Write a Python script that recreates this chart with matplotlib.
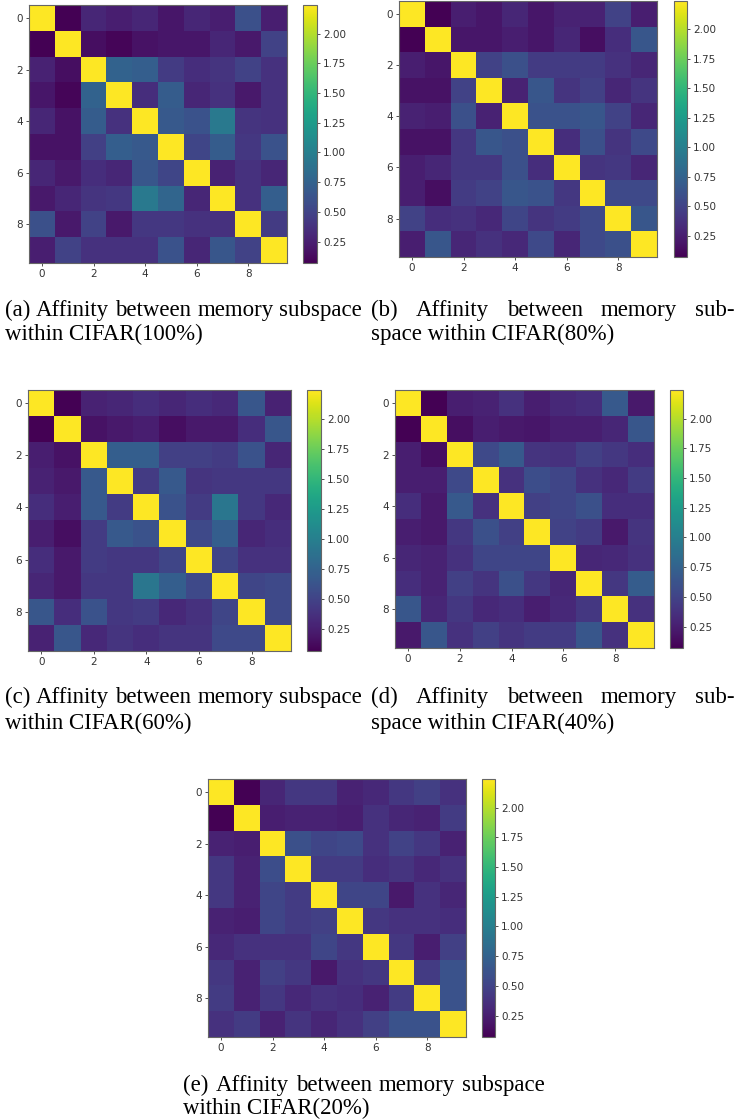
import matplotlib
matplotlib.use("Agg")
from matplotlib import pyplot as plt

W, H = 738, 1120

# Affinity matrices (rows/cols = memory subspace 0..9)
aff_100 = [
    [2.24, 0.07, 0.30, 0.25, 0.30, 0.20, 0.30, 0.25, 0.60, 0.25],
    [0.07, 2.24, 0.15, 0.10, 0.18, 0.20, 0.20, 0.30, 0.22, 0.50],
    [0.28, 0.15, 2.24, 0.75, 0.72, 0.45, 0.35, 0.40, 0.50, 0.38],
    [0.20, 0.10, 0.75, 2.24, 0.35, 0.70, 0.30, 0.38, 0.22, 0.38],
    [0.30, 0.18, 0.70, 0.38, 2.24, 0.68, 0.62, 0.95, 0.40, 0.38],
    [0.18, 0.18, 0.48, 0.72, 0.68, 2.24, 0.52, 0.70, 0.42, 0.62],
    [0.30, 0.22, 0.35, 0.30, 0.65, 0.52, 2.24, 0.28, 0.38, 0.30],
    [0.22, 0.30, 0.40, 0.42, 0.95, 0.78, 0.30, 2.24, 0.38, 0.72],
    [0.60, 0.22, 0.50, 0.22, 0.42, 0.42, 0.38, 0.38, 2.24, 0.45],
    [0.25, 0.50, 0.38, 0.38, 0.38, 0.62, 0.30, 0.65, 0.50, 2.24],
]
aff_80 = [
    [2.24, 0.07, 0.25, 0.20, 0.30, 0.20, 0.28, 0.28, 0.50, 0.25],
    [0.07, 2.24, 0.20, 0.20, 0.25, 0.20, 0.30, 0.15, 0.35, 0.65],
    [0.25, 0.20, 2.24, 0.50, 0.60, 0.45, 0.45, 0.45, 0.38, 0.30],
    [0.18, 0.18, 0.50, 2.24, 0.28, 0.65, 0.40, 0.48, 0.30, 0.40],
    [0.28, 0.25, 0.60, 0.28, 2.24, 0.62, 0.62, 0.65, 0.50, 0.30],
    [0.18, 0.18, 0.42, 0.65, 0.60, 2.24, 0.35, 0.60, 0.40, 0.55],
    [0.25, 0.30, 0.42, 0.42, 0.60, 0.35, 2.24, 0.40, 0.42, 0.30],
    [0.25, 0.15, 0.45, 0.50, 0.65, 0.62, 0.42, 2.24, 0.55, 0.55],
    [0.50, 0.35, 0.38, 0.32, 0.52, 0.40, 0.45, 0.55, 2.24, 0.65],
    [0.25, 0.65, 0.30, 0.38, 0.32, 0.55, 0.30, 0.55, 0.60, 2.24],
]
aff_60 = [
    [2.24, 0.07, 0.28, 0.30, 0.35, 0.30, 0.35, 0.32, 0.65, 0.28],
    [0.07, 2.24, 0.18, 0.22, 0.25, 0.15, 0.22, 0.22, 0.35, 0.65],
    [0.25, 0.18, 2.24, 0.72, 0.72, 0.48, 0.48, 0.45, 0.62, 0.30],
    [0.28, 0.22, 0.68, 2.24, 0.45, 0.68, 0.40, 0.42, 0.42, 0.42],
    [0.35, 0.25, 0.68, 0.45, 2.24, 0.62, 0.45, 0.92, 0.42, 0.32],
    [0.25, 0.15, 0.45, 0.68, 0.62, 2.24, 0.55, 0.72, 0.30, 0.35],
    [0.35, 0.22, 0.45, 0.42, 0.42, 0.52, 2.24, 0.52, 0.38, 0.38],
    [0.30, 0.22, 0.42, 0.42, 0.92, 0.72, 0.55, 2.24, 0.52, 0.55],
    [0.65, 0.35, 0.62, 0.42, 0.45, 0.32, 0.38, 0.52, 2.24, 0.55],
    [0.28, 0.65, 0.32, 0.40, 0.35, 0.40, 0.40, 0.55, 0.55, 2.24],
]
aff_40 = [
    [2.24, 0.07, 0.25, 0.28, 0.38, 0.25, 0.32, 0.35, 0.68, 0.22],
    [0.07, 2.24, 0.15, 0.25, 0.22, 0.20, 0.25, 0.25, 0.30, 0.65],
    [0.25, 0.15, 2.24, 0.55, 0.68, 0.40, 0.38, 0.48, 0.42, 0.35],
    [0.25, 0.25, 0.55, 2.24, 0.38, 0.58, 0.52, 0.38, 0.32, 0.45],
    [0.35, 0.22, 0.68, 0.38, 2.24, 0.48, 0.52, 0.60, 0.35, 0.35],
    [0.25, 0.22, 0.42, 0.60, 0.48, 2.24, 0.50, 0.45, 0.22, 0.40],
    [0.30, 0.28, 0.38, 0.52, 0.52, 0.52, 2.24, 0.30, 0.32, 0.38],
    [0.35, 0.28, 0.48, 0.40, 0.60, 0.42, 0.30, 2.24, 0.42, 0.70],
    [0.65, 0.30, 0.42, 0.32, 0.35, 0.25, 0.32, 0.42, 2.24, 0.38],
    [0.22, 0.65, 0.38, 0.48, 0.40, 0.45, 0.45, 0.65, 0.38, 2.24],
]
aff_20 = [
    [2.24, 0.07, 0.30, 0.42, 0.42, 0.28, 0.32, 0.42, 0.48, 0.38],
    [0.07, 2.24, 0.25, 0.28, 0.28, 0.25, 0.38, 0.30, 0.28, 0.45],
    [0.28, 0.25, 2.24, 0.60, 0.52, 0.55, 0.38, 0.50, 0.42, 0.28],
    [0.42, 0.28, 0.58, 2.24, 0.45, 0.45, 0.35, 0.40, 0.32, 0.38],
    [0.42, 0.28, 0.52, 0.45, 2.24, 0.52, 0.52, 0.22, 0.38, 0.30],
    [0.28, 0.25, 0.52, 0.45, 0.48, 2.24, 0.42, 0.38, 0.38, 0.35],
    [0.32, 0.38, 0.38, 0.38, 0.52, 0.42, 2.24, 0.42, 0.25, 0.48],
    [0.42, 0.28, 0.48, 0.42, 0.22, 0.38, 0.42, 2.24, 0.45, 0.62],
    [0.45, 0.28, 0.42, 0.32, 0.38, 0.35, 0.28, 0.45, 2.24, 0.62],
    [0.38, 0.45, 0.28, 0.40, 0.30, 0.38, 0.48, 0.62, 0.62, 2.24],
]

axis_ticks = [0, 2, 4, 6, 8]
cbar_ticks = [0.25, 0.50, 0.75, 1.00, 1.25, 1.50, 1.75, 2.00]

captions = [
    ("(a) Affinity between memory subspace", "within CIFAR(100%)"),
    ("(b) Affinity between memory sub-", "space within CIFAR(80%)"),
    ("(c) Affinity between memory subspace", "within CIFAR(60%)"),
    ("(d) Affinity between memory sub-", "space within CIFAR(40%)"),
    ("(e) Affinity between memory subspace", "within CIFAR(20%)"),
]

# panel layout in pixels: heatmap (left, right, top, bottom), colorbar (left, right)
panels = [
    (aff_100, (29, 287, 5, 263), (303, 317)),
    (aff_80, (399, 657, 1, 257), (674, 687)),
    (aff_60, (28, 291, 390, 651), (307, 321)),
    (aff_40, (395, 654, 390, 648), (670, 683)),
    (aff_20, (208, 466, 779, 1037), (482, 495)),
]
# caption lines: first line x range, baselines of both lines
caption_pos = [
    (5, 362, 316, 340),
    (371, 735, 316, 340),
    (5, 362, 703, 729),
    (371, 735, 703, 729),
    (183, 545, 1091, 1114),
]


def px_rect(left, right, top, bottom):
    return [left / W, 1 - bottom / H, (right - left) / W, (bottom - top) / H]


def style_ticks(ax):
    ax.tick_params(labelsize=7.5, length=2.5, width=0.6, colors="#333333", pad=2)
    for sp in ax.spines.values():
        sp.set_edgecolor("#666666")
        sp.set_linewidth(0.8)


fig = plt.figure(figsize=(W / 100, H / 100), dpi=100)
serif = ["Liberation Serif", "DejaVu Serif"]

for data, (l, r, t, b), (cl, cr) in panels:
    ax = fig.add_axes(px_rect(l, r, t, b))
    im = ax.imshow(data, cmap="viridis", aspect="auto", interpolation="nearest")
    ax.set_xticks(axis_ticks)
    ax.set_yticks(axis_ticks)
    style_ticks(ax)
    cax = fig.add_axes(px_rect(cl, cr, t, b))
    cb = fig.colorbar(im, cax=cax, ticks=cbar_ticks, format="%.2f")
    cb.outline.set_edgecolor("#666666")
    cb.outline.set_linewidth(0.8)
    style_ticks(cax)

renderer = fig.canvas.get_renderer()
for (line1, line2), (x0, x1, y1, y2) in zip(captions, caption_pos):
    # first line justified between x0 and x1, like the LaTeX caption
    words = line1.split(" ")
    texts = [fig.text(0, 0, w, family=serif, fontsize=16.5, va="baseline") for w in words]
    widths = [tx.get_window_extent(renderer).width for tx in texts]
    gap = (x1 - x0 - sum(widths)) / (len(words) - 1)
    x = x0
    for tx, w in zip(texts, widths):
        tx.set_position((x / W, 1 - y1 / H))
        x += w + gap
    fig.text(x0 / W, 1 - y2 / H, line2, family=serif, fontsize=16.5, va="baseline")

fig.savefig("out.png", dpi=100)
